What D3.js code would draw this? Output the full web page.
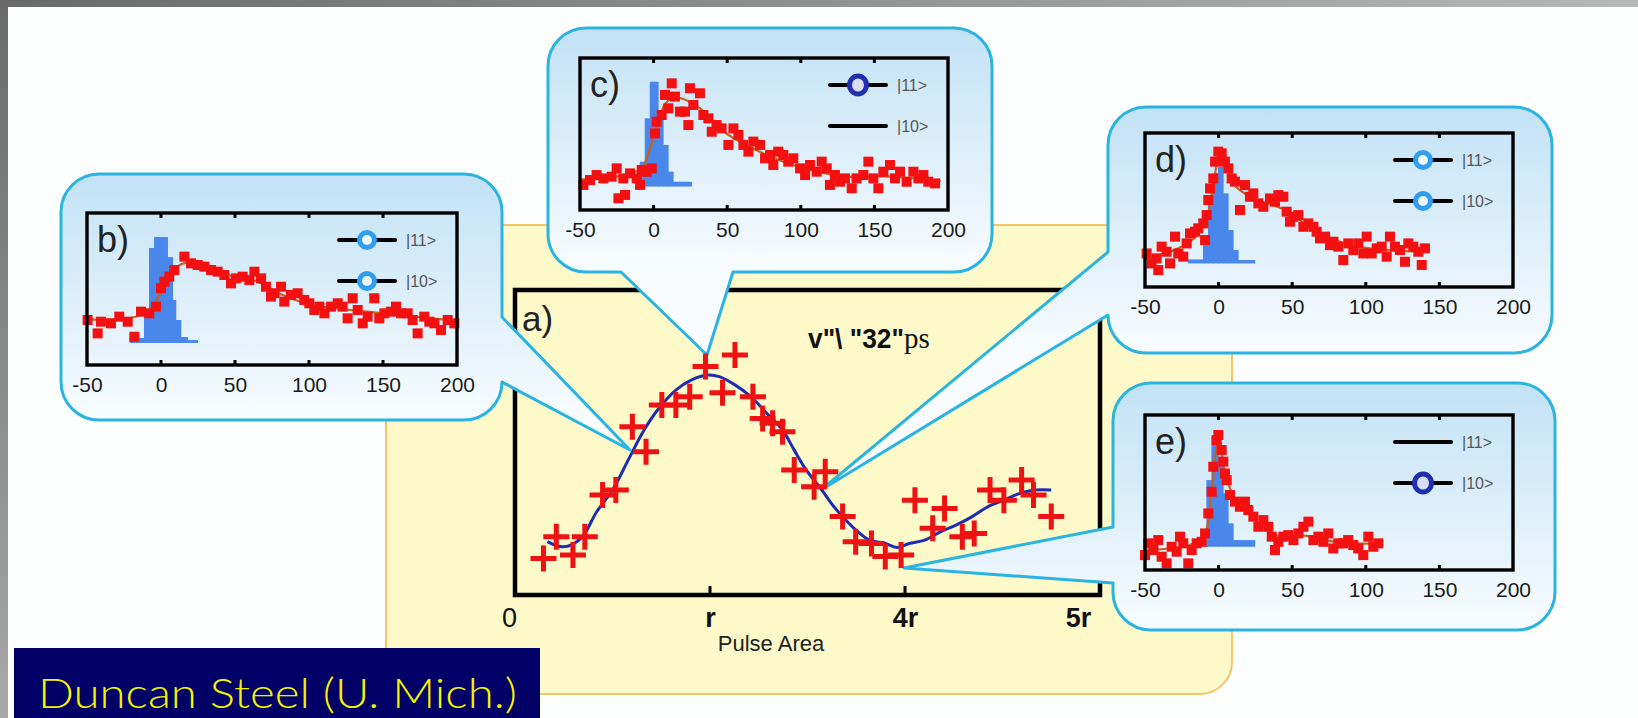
<!DOCTYPE html>
<html>
<head>
<meta charset="utf-8">
<script src="https://cdnjs.cloudflare.com/ajax/libs/d3/7.8.5/d3.min.js"></script>
<style>
  body { margin: 0; background: #fdfefe; }
  svg { display: block; }
  text { font-family: "Liberation Sans", Arial, sans-serif; }
</style>
</head>
<body>
<svg id="chart" width="1638" height="718"></svg>
<script>
// ---- panel a: signal vs pulse area ----
var pulseTicks = ["0", "r", "4r", "5r"];
var pulseArea = [0.146, 0.212, 0.297, 0.358, 0.449, 0.517, 0.602, 0.672, 0.753, 0.825, 0.896, 0.977,
  1.064, 1.128, 1.220, 1.270, 1.321, 1.372, 1.432, 1.534, 1.591, 1.680, 1.747, 1.828, 1.899, 1.980,
  2.051, 2.142, 2.203, 2.294, 2.355, 2.436, 2.507, 2.598, 2.659, 2.750];
var pulseSignal = [12.0, 19.1, 13.1, 19.1, 32.8, 34.4, 55.2, 47.0, 62.3, 62.3, 65.0, 74.9,
  66.3, 78.7, 65.0, 57.9, 56.3, 53.5, 41.0, 35.5, 40.4, 25.7, 17.5, 16.9, 12.6, 13.1,
  31.1, 21.9, 28.4, 19.1, 20.2, 34.4, 31.1, 37.7, 32.8, 25.7];
var fitArea = [0.166, 0.247, 0.338, 0.419, 0.500, 0.581, 0.662, 0.744, 0.825, 0.906, 0.987, 1.047,
  1.128, 1.210, 1.291, 1.372, 1.432, 1.493, 1.574, 1.635, 1.696, 1.757, 1.818, 1.899, 1.960, 2.021,
  2.102, 2.183, 2.264, 2.345, 2.426, 2.507, 2.588, 2.669, 2.750];
var fitSignal = [17.5, 15.8, 18.6, 27.3, 34.4, 44.3, 54.1, 61.7, 67.2, 70.5, 72.1, 71.6,
  68.9, 65.0, 59.6, 54.1, 47.5, 41.0, 34.4, 29.0, 24.6, 20.8, 18.0, 16.9, 15.6, 16.9,
  18.0, 20.8, 23.0, 25.7, 29.0, 31.1, 33.3, 34.4, 34.4];

// ---- insets b-e: signal vs delay (ps) ----
var delayTicks = [-50, 0, 50, 100, 150, 200];
var stateLabels = ["|11>", "|10>"];

var bPoints = [[-49.6,29.6],[-42.8,20.8],[-40.6,28.5],[-33.8,27.4],[-28.2,31.8],[-22.5,28.5],[-18.0,18.6],
  [-13.5,35.1],[-7.9,34.0],[-3.4,38.4],[0.0,50.5],[2.3,54.8],[5.6,58.1],[9.0,62.5],[15.8,71.3],[20.3,66.9],
  [24.8,65.8],[29.3,64.7],[33.8,62.5],[38.3,61.4],[42.8,59.2],[47.3,53.7],[50.7,57.0],[55.2,58.1],[59.7,55.9],
  [63.1,61.4],[67.6,57.0],[70.9,51.5],[74.3,45.0],[76.6,47.2],[81.1,51.5],[83.3,41.7],[87.8,46.1],[92.3,47.2],
  [96.8,42.8],[100.2,40.6],[103.6,36.2],[107.0,38.4],[110.4,34.0],[114.9,38.4],[119.4,40.6],[122.7,38.4],
  [126.1,30.7],[129.5,43.9],[132.9,36.2],[136.3,27.4],[139.6,31.8],[144.1,43.9],[147.5,30.7],[150.9,34.0],
  [155.4,35.1],[158.8,38.4],[162.2,34.0],[166.7,34.0],[170.0,29.6],[173.4,20.8],[177.9,31.8],[181.3,28.5],
  [184.7,27.4],[189.2,23.0],[193.7,29.6],[198.2,27.4]];
var bFit = [[-50,30],[-20,31],[-8,36],[0,48],[8,62],[16,67],[30,64],[50,58],[65,55],[80,47],[100,40],
  [120,37],[150,34],[200,29]];
var bHist = [[-21,-11.3,17.8],[-11.3,-7.9,36.2],[-7.9,-4.5,77],[-4.5,4.5,84.2],[4.5,7.9,71],[7.9,10.1,42.8],
  [10.1,13.5,29.6],[13.5,18,18.4],[18,24.8,16.4]];

var cPoints = [[-47.7,16.5],[-43.2,19.7],[-38.7,23.0],[-34.1,20.8],[-28.5,21.9],[-25.1,27.4],[-23.9,7.7],
  [-19.4,9.9],[-20.6,20.8],[-16.0,24.1],[-11.5,20.8],[-9.2,16.5],[-8.1,26.3],[-4.7,25.2],[-1.3,27.4],
  [1.0,50.4],[2.1,58.1],[5.5,62.5],[7.7,75.7],[10.0,66.9],[12.3,83.3],[14.5,74.6],[17.9,64.7],[21.3,64.7],
  [23.6,55.9],[24.7,80.1],[27.0,69.1],[31.5,76.8],[33.8,62.5],[37.2,60.3],[39.5,51.5],[42.8,55.9],[46.2,53.7],
  [50.8,42.8],[54.2,53.7],[57.6,49.4],[61.0,42.8],[64.4,38.4],[67.8,45.0],[72.3,42.8],[75.7,34.0],[79.1,36.2],
  [81.3,29.6],[84.7,38.4],[88.1,36.2],[91.5,31.8],[94.9,34.0],[99.5,27.4],[102.9,23.0],[106.3,29.6],
  [110.8,25.2],[114.2,31.8],[117.6,27.4],[119.8,16.5],[123.2,23.0],[126.6,18.6],[130.0,20.8],[134.6,14.3],
  [137.9,20.8],[142.5,23.0],[145.9,31.8],[149.3,20.8],[152.7,14.3],[156.1,25.2],[160.6,29.6],[164.0,20.8],
  [167.4,25.2],[171.9,18.6],[176.5,25.2],[179.9,20.8],[183.3,23.0],[186.6,18.6],[191.2,17.5]];
var cFit = [[-50,20],[-20,23],[-8,28],[0,48],[8,70],[15,74],[30,68],[50,50],[75,37],[100,28],[130,22],
  [160,22],[195,19]];
var cHist = [[-9.2,-5.8,31.8],[-5.8,-2.4,60.3],[-2.4,3.2,84.4],[3.2,6.6,62.5],[6.6,10,42.8],[10,13.4,25.2],
  [13.4,25.9,18.6]];

var dPoints = [[-48.9,21.8],[-45.5,15.3],[-42.1,18.6],[-41.0,11.0],[-38.7,26.2],[-35.3,22.9],[-33.0,15.3],
  [-29.6,32.7],[-27.4,21.8],[-24.0,19.7],[-21.7,28.3],[-19.4,34.8],[-16.0,35.9],[-13.8,38.1],[-10.4,41.3],
  [-9.2,30.5],[-8.1,46.7],[-7.0,56.5],[-5.8,64.0],[-3.6,70.5],[-2.4,81.4],[-0.2,87.9],[2.1,86.8],[4.3,81.4],
  [6.6,77.0],[8.9,70.5],[11.1,68.4],[14.5,50.0],[17.9,66.2],[21.3,58.6],[23.6,60.8],[27.0,54.3],[30.4,52.1],
  [34.9,57.5],[38.3,55.4],[40.6,59.7],[44.0,58.6],[46.2,48.9],[48.5,42.4],[50.8,45.6],[54.2,46.7],[57.6,39.1],
  [60.9,41.3],[64.4,39.1],[66.6,35.9],[68.9,31.6],[72.3,32.7],[75.7,27.2],[78.0,29.4],[81.3,26.2],[84.7,17.5],
  [88.1,28.3],[91.5,24.0],[94.9,28.3],[98.3,21.8],[100.6,32.7],[104.0,21.8],[107.4,25.1],[110.8,26.2],
  [114.2,19.7],[116.4,32.7],[119.8,26.2],[123.2,24.0],[126.6,16.4],[128.9,28.3],[132.3,26.2],[135.7,22.9],
  [138.0,14.3],[140.2,25.1]];
var dFit = [[-50,18],[-30,24],[-15,33],[-8,45],[-3,70],[0,82],[5,78],[12,65],[25,57],[45,50],[65,37],
  [90,27],[115,24],[140,23]];
var dHist = [[-20.6,-10.4,17.9],[-10.4,-7,28.3],[-7,-3.6,56.5],[-3.6,-0.2,73.8],[-0.2,3.2,78.1],
  [3.2,6.6,60.8],[6.6,10,37],[10,13.4,24],[13.4,24.7,17.5]];

var ePoints = [[-50.0,9.6],[-47.7,17.2],[-44.3,12.9],[-41.0,19.3],[-38.7,8.6],[-35.3,4.3],[-31.9,15.0],
  [-28.5,11.8],[-26.2,21.5],[-24.0,17.2],[-20.6,4.3],[-18.3,12.9],[-14.9,17.2],[-11.5,18.2],[-9.2,23.6],
  [-7.0,36.5],[-4.7,50.5],[-3.6,66.6],[-1.3,83.8],[-0.2,87.1],[2.1,77.4],[3.2,69.9],[4.3,62.3],[5.5,58.0],
  [7.7,48.4],[11.1,44.1],[14.5,40.8],[17.9,44.1],[20.2,38.7],[23.6,34.4],[27.0,27.9],[30.4,32.2],[33.8,27.9],
  [36.1,21.5],[38.3,12.9],[40.6,18.2],[44.0,21.5],[47.4,22.5],[50.8,19.3],[54.2,23.6],[57.6,27.9],[61.0,31.2],
  [64.4,19.3],[67.8,21.5],[71.2,18.2],[74.5,23.6],[77.9,13.9],[81.3,17.2],[84.7,17.2],[88.1,19.3],[91.5,16.1],
  [94.9,13.9],[98.3,9.6],[101.7,21.5],[105.1,15.0],[108.5,17.2]];
var eFit = [[-50,13],[-20,16],[-10,22],[-5,48],[0,85],[5,60],[12,45],[25,32],[40,22],[60,22],[80,18],[108,17]];
var eHist = [[-19.4,-8.1,17.2],[-8.1,-4.7,58],[-4.7,-0.2,86],[-0.2,3.2,73.1],[3.2,6.6,49.4],[6.6,10,30.1],
  [10,24.7,19.3]];

var svg = d3.select("#chart");
var defs = svg.append("defs");

// gray slide border, top and left
var gTop = defs.append("linearGradient").attr("id", "gtop").attr("x1", 0).attr("x2", 1).attr("y1", 0).attr("y2", 0);
gTop.append("stop").attr("offset", 0).attr("stop-color", "#6a6a6a");
gTop.append("stop").attr("offset", 1).attr("stop-color", "#b8b8b8");
var gLeft = defs.append("linearGradient").attr("id", "gleft").attr("x1", 0).attr("x2", 0).attr("y1", 0).attr("y2", 1);
gLeft.append("stop").attr("offset", 0).attr("stop-color", "#6a6a6a");
gLeft.append("stop").attr("offset", 1).attr("stop-color", "#a8a8a8");
svg.append("rect").attr("x", 0).attr("y", 0).attr("width", 1638).attr("height", 7).attr("fill", "url(#gtop)");
svg.append("rect").attr("x", 0).attr("y", 0).attr("width", 8).attr("height", 718).attr("fill", "url(#gleft)");

// yellow backdrop
svg.append("rect")
  .attr("x", 386).attr("y", 225).attr("width", 846).attr("height", 469).attr("rx", 32)
  .attr("fill", "#fdf9c9").attr("stroke", "#f5c56c").attr("stroke-width", 2);

// ---- panel a ----
var A = { x: 515, y: 290, w: 585, h: 305 };
var xa = d3.scaleLinear().domain([0, 3]).range([A.x, A.x + A.w]);
var ya = d3.scaleLinear().domain([0, 100]).range([A.y + A.h, A.y]);

var ga = svg.append("g");
ga.append("rect").attr("x", A.x).attr("y", A.y).attr("width", A.w).attr("height", A.h)
  .attr("fill", "none").attr("stroke", "#000").attr("stroke-width", 4.5);

var axA = ga.append("g").attr("transform", "translate(0," + (A.y + A.h) + ")")
  .call(d3.axisBottom(xa).tickValues([0, 1, 2, 3]).tickSize(0).tickPadding(0)
    .tickFormat(function (d, i) { return pulseTicks[i]; }));
axA.select(".domain").remove();
axA.selectAll("text")
  .attr("dy", null).attr("y", 32)
  .attr("dx", function (d) { return d === 0 ? -6 : d === 3 ? -22 : 0; })
  .style("font-size", "27px").style("font-weight", function (d) { return d === 0 ? "normal" : "bold"; })
  .attr("fill", "#111");
ga.selectAll("line.atick").data([1, 2]).enter().append("line")
  .attr("x1", function (d) { return xa(d); }).attr("x2", function (d) { return xa(d); })
  .attr("y1", A.y + A.h).attr("y2", A.y + A.h - 9)
  .attr("stroke", "#000").attr("stroke-width", 3);

ga.append("text").attr("x", 771).attr("y", 651).attr("text-anchor", "middle")
  .style("font-size", "22px").attr("fill", "#222").text("Pulse Area");
ga.append("text").attr("x", 522).attr("y", 331).style("font-size", "35px").attr("fill", "#222").text("a)");
var vt = ga.append("text").attr("x", 808).attr("y", 348).attr("fill", "#111");
vt.append("tspan").style("font-size", "27px").style("font-weight", "bold")
  .attr("textLength", 96).attr("lengthAdjust", "spacingAndGlyphs").text('v"\\ "32"');
vt.append("tspan").style("font-family", '"Liberation Serif", "Times New Roman", serif')
  .style("font-size", "29px").text("ps");

// ---- callouts ----
var insets = [
  { label: "b)", points: bPoints, fit: bFit, hist: bHist, base: 14.5, markers: ["light", "light"],
    box: { x: 61, y: 174, w: 441, h: 246, r: 38 }, tail: { side: "right", a: 317, b: 382, tip: [630, 450] },
    frame: { x: 87, y: 213, w: 370, h: 152 } },
  { label: "c)", points: cPoints, fit: cFit, hist: cHist, base: 15.4, markers: ["dark", "none"],
    box: { x: 548, y: 28, w: 444, h: 244, r: 38 }, tail: { side: "bottom", a: 621, b: 733, tip: [707, 355] },
    frame: { x: 580, y: 58, w: 368, h: 152 } },
  { label: "d)", points: dPoints, fit: dFit, hist: dHist, base: 15.3, markers: ["light", "light"],
    box: { x: 1108, y: 107, w: 444, h: 246, r: 38 }, tail: { side: "left", a: 252, b: 315, tip: [821, 490] },
    frame: { x: 1145, y: 133, w: 368, h: 154 } },
  { label: "e)", points: ePoints, fit: eFit, hist: eHist, base: 15.0, markers: ["none", "dark"],
    box: { x: 1113, y: 383, w: 442, h: 247, r: 38 }, tail: { side: "left", a: 527, b: 583, tip: [904, 568] },
    frame: { x: 1145, y: 415, w: 368, h: 155 } }
];

function calloutPath(b, t) {
  var x0 = b.x, y0 = b.y, x1 = b.x + b.w, y1 = b.y + b.h, r = b.r;
  var p = d3.path();
  p.moveTo(x0 + r, y0);
  p.lineTo(x1 - r, y0);
  p.arcTo(x1, y0, x1, y0 + r, r);
  if (t.side === "right") { p.lineTo(x1, t.a); p.lineTo(t.tip[0], t.tip[1]); p.lineTo(x1, t.b); }
  p.lineTo(x1, y1 - r);
  p.arcTo(x1, y1, x1 - r, y1, r);
  if (t.side === "bottom") { p.lineTo(t.b, y1); p.lineTo(t.tip[0], t.tip[1]); p.lineTo(t.a, y1); }
  p.lineTo(x0 + r, y1);
  p.arcTo(x0, y1, x0, y1 - r, r);
  if (t.side === "left") { p.lineTo(x0, t.b); p.lineTo(t.tip[0], t.tip[1]); p.lineTo(x0, t.a); }
  p.lineTo(x0, y0 + r);
  p.arcTo(x0, y0, x0 + r, y0, r);
  p.closePath();
  return p.toString();
}

insets.forEach(function (ins, k) {
  var gid = "cg" + k;
  var grad = defs.append("linearGradient").attr("id", gid).attr("gradientUnits", "userSpaceOnUse")
    .attr("x1", 0).attr("x2", 0).attr("y1", ins.box.y).attr("y2", ins.box.y + ins.box.h);
  grad.append("stop").attr("offset", 0).attr("stop-color", "#c3e2f6");
  grad.append("stop").attr("offset", 0.55).attr("stop-color", "#dff0fa");
  grad.append("stop").attr("offset", 1).attr("stop-color", "#f8fcfe");

  var g = svg.append("g");
  g.append("path").attr("d", calloutPath(ins.box, ins.tail))
    .attr("fill", "url(#" + gid + ")").attr("stroke", "#2bb4e2").attr("stroke-width", 3)
    .attr("stroke-linejoin", "round");

  var F = ins.frame;
  var x = d3.scaleLinear().domain([-50, 200]).range([F.x, F.x + F.w]);
  var y = d3.scaleLinear().domain([0, 100]).range([F.y + F.h, F.y]);

  // histogram (pump pulse)
  g.selectAll("rect.hist").data(ins.hist).enter().append("rect")
    .attr("x", function (d) { return x(d[0]) - 0.3; })
    .attr("width", function (d) { return x(d[1]) - x(d[0]) + 0.6; })
    .attr("y", function (d) { return y(d[2]); })
    .attr("height", function (d) { return y(ins.base) - y(d[2]); })
    .attr("fill", "#4a87ea");

  // fit
  g.append("path").datum(ins.fit)
    .attr("d", d3.line().curve(d3.curveCatmullRom).x(function (d) { return x(d[0]); }).y(function (d) { return y(d[1]); }))
    .attr("fill", "none").attr("stroke", "#c8601e").attr("stroke-width", 2.2);

  // data squares
  g.selectAll("rect.pt").data(ins.points).enter().append("rect")
    .attr("x", function (d) { return x(d[0]) - 5; })
    .attr("y", function (d) { return y(d[1]) - 5; })
    .attr("width", 10).attr("height", 10)
    .attr("fill", "#f41010");

  // frame
  g.append("rect").attr("x", F.x).attr("y", F.y).attr("width", F.w).attr("height", F.h)
    .attr("fill", "none").attr("stroke", "#000").attr("stroke-width", 3.4);
  [0, 50, 100, 150].forEach(function (v) {
    g.append("line").attr("x1", x(v)).attr("x2", x(v)).attr("y1", F.y).attr("y2", F.y + 5)
      .attr("stroke", "#000").attr("stroke-width", 3);
    g.append("line").attr("x1", x(v)).attr("x2", x(v)).attr("y1", F.y + F.h).attr("y2", F.y + F.h - 5)
      .attr("stroke", "#000").attr("stroke-width", 3);
  });

  var ax = g.append("g").attr("transform", "translate(0," + (F.y + F.h) + ")")
    .call(d3.axisBottom(x).tickValues(delayTicks).tickSize(0).tickPadding(0).tickFormat(String));
  ax.select(".domain").remove();
  ax.selectAll("text").attr("dy", null).attr("y", 27)
    .style("font-size", "21px").attr("fill", "#1a1a1a");

  g.append("text").attr("x", F.x + 10).attr("y", F.y + 39)
    .style("font-size", "36px").attr("fill", "#222").text(ins.label);

  // legend
  var lx0 = F.x + F.w - 118, lx1 = F.x + F.w - 62, lmx = (lx0 + lx1) / 2;
  stateLabels.forEach(function (s, i) {
    var ly = F.y + 27 + i * 41;
    g.append("line").attr("x1", lx0).attr("x2", lx1).attr("y1", ly).attr("y2", ly)
      .attr("stroke", "#000").attr("stroke-width", 4).attr("stroke-linecap", "round");
    var m = ins.markers[i];
    if (m === "light") {
      g.append("circle").attr("cx", lmx).attr("cy", ly).attr("r", 7.5)
        .attr("fill", "#eef6ff").attr("stroke", "#2f9df0").attr("stroke-width", 5);
    } else if (m === "dark") {
      g.append("ellipse").attr("cx", lmx).attr("cy", ly).attr("rx", 8.5).attr("ry", 9)
        .attr("fill", "#d8dcf4").attr("stroke", "#1f2fb0").attr("stroke-width", 5);
    }
    g.append("text").attr("x", lx1 + 11).attr("y", ly + 6)
      .style("font-size", "16px").attr("fill", "#555").text(s);
  });
});

// fit and crosses of panel a, drawn over the callout tails
var fitPts = fitArea.map(function (v, i) { return [v, fitSignal[i]]; });
svg.append("path").datum(fitPts)
  .attr("d", d3.line().curve(d3.curveCatmullRom).x(function (d) { return xa(d[0]); }).y(function (d) { return ya(d[1]); }))
  .attr("fill", "none").attr("stroke", "#1c2db4").attr("stroke-width", 3);

svg.append("g").selectAll("path").data(pulseArea).enter().append("path")
  .attr("d", function (d, i) {
    var cx = xa(d), cy = ya(pulseSignal[i]), s = 13;
    return "M" + (cx - s) + "," + cy + "H" + (cx + s) + "M" + cx + "," + (cy - s) + "V" + (cy + s);
  })
  .attr("stroke", "#ee1212").attr("stroke-width", 5).attr("fill", "none");

// credit box
svg.append("rect").attr("x", 14).attr("y", 648).attr("width", 526).attr("height", 70).attr("fill", "#000066");
svg.append("text").attr("x", 38).attr("y", 708)
  .style("font-family", '"Tempus Sans ITC", Lato, "Open Sans", sans-serif').style("font-weight", 300)
  .style("font-size", "41px").attr("fill", "#f4f400")
  .attr("textLength", 479).attr("lengthAdjust", "spacingAndGlyphs")
  .text("Duncan Steel (U. Mich.)");
</script>
</body>
</html>
